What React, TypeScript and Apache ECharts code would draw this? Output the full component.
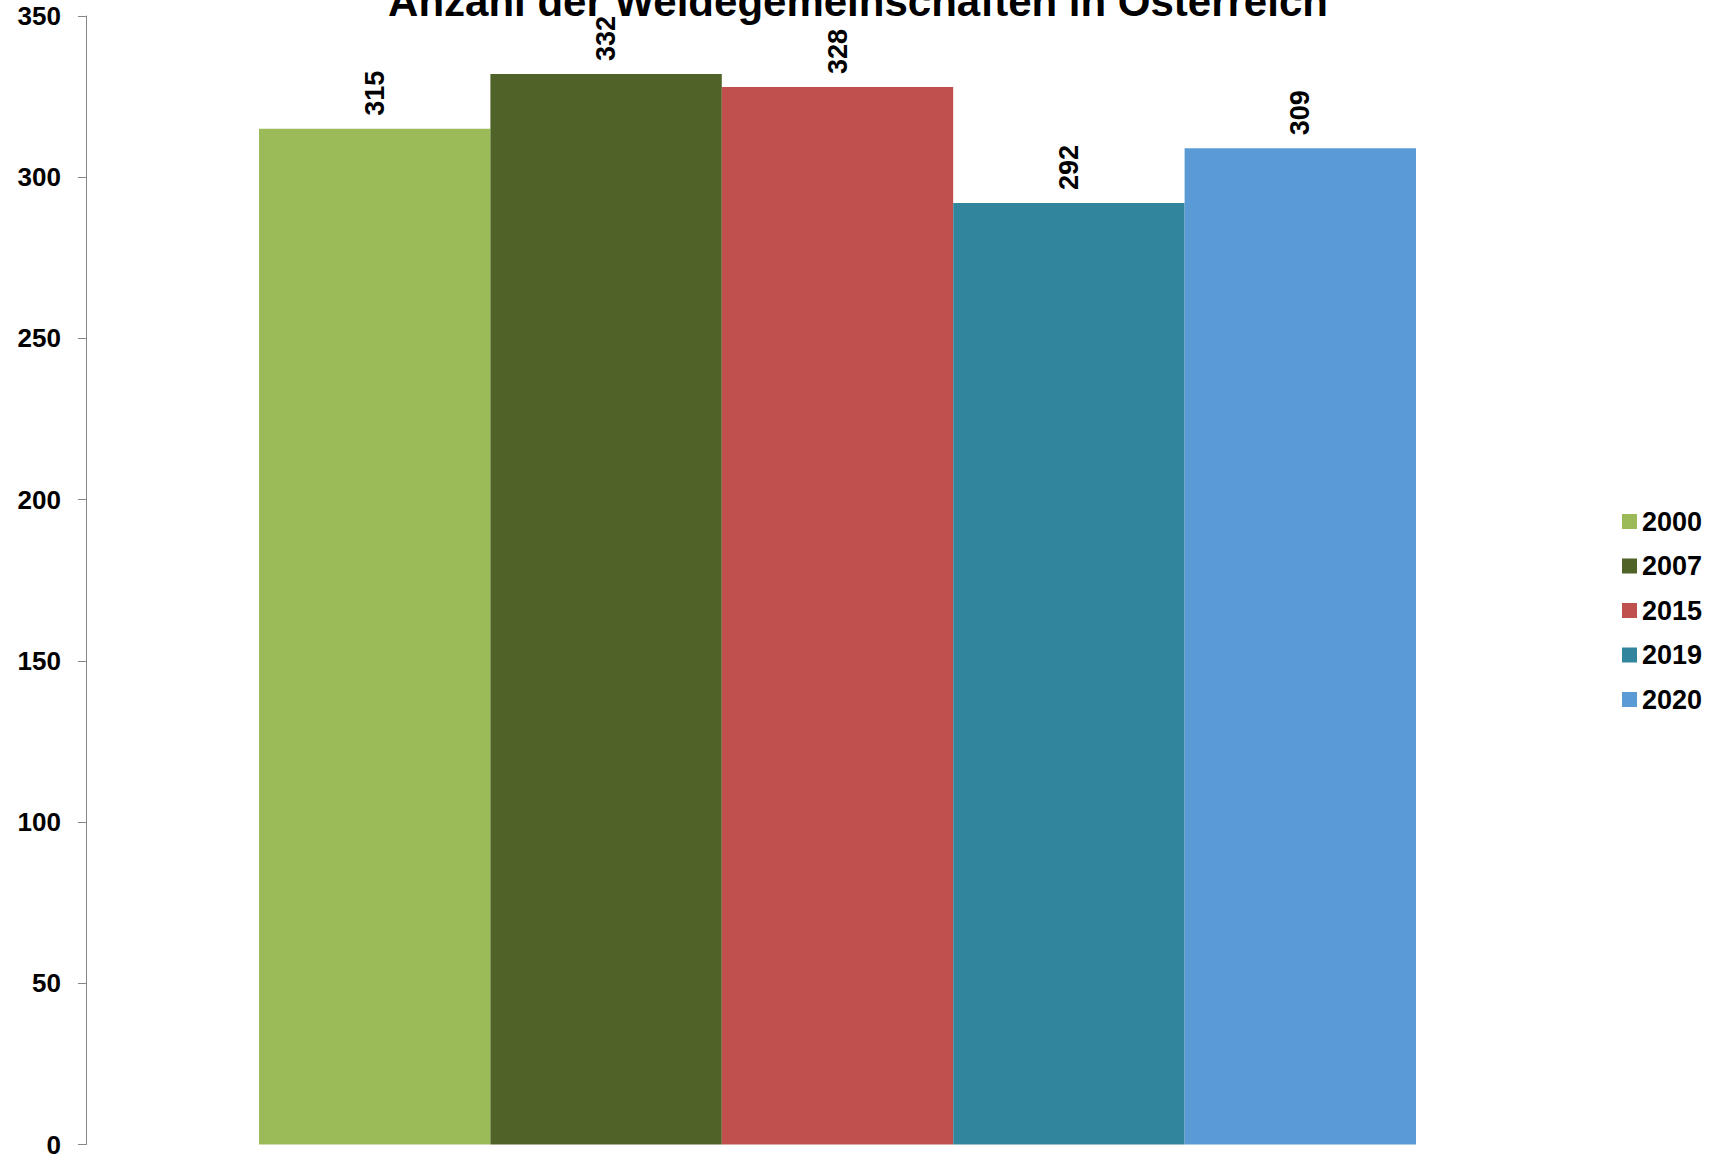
import React, { useEffect, useRef } from "react";
import * as echarts from "echarts";

const title = "Anzahl der Weidegemeinschaften in Österreich";
const years = ["2000", "2007", "2015", "2019", "2020"];
const values = [315, 332, 328, 292, 309];
const colors = ["#9BBB59", "#4F6228", "#C0504D", "#31859C", "#5B9BD5"];
const category = [""];
const FONT = "'Liberation Sans', Arial, sans-serif";

export default function App() {
  const ref = useRef<HTMLDivElement>(null);
  useEffect(() => {
    if (!ref.current) return;
    const chart = echarts.init(ref.current, undefined, { renderer: "svg" });
    chart.setOption({
      animation: false,
      backgroundColor: "#ffffff",
      graphic: [
        {
          type: "text",
          x: 858,
          y: 22,
          style: {
            text: title,
            fontFamily: FONT,
            fontWeight: "bold",
            fontSize: 42,
            fill: "#000",
            textAlign: "center",
            textVerticalAlign: "bottom",
          },
        },
      ],
      grid: { left: 86, right: 125, top: 16, bottom: 14.5, containLabel: false },
      legend: {
        orient: "vertical",
        left: 1617,
        top: 503,
        itemWidth: 15,
        itemHeight: 15,
        itemGap: 17.5,
        icon: "rect",
        data: years,
        textStyle: {
          fontFamily: FONT,
          fontWeight: "bold",
          fontSize: 27,
          lineHeight: 27,
          color: "#000",
        },
      },
      xAxis: {
        type: "category",
        data: category,
        axisLine: { show: false },
        axisTick: { show: false },
        axisLabel: { show: false },
      },
      yAxis: {
        type: "value",
        min: 0,
        max: 350,
        interval: 50,
        axisLine: { show: true, lineStyle: { color: "#868686", width: 1 } },
        axisTick: { show: true, length: 8, lineStyle: { color: "#868686" } },
        splitLine: { show: false },
        axisLabel: {
          margin: 25,
          fontFamily: FONT,
          fontWeight: "bold",
          fontSize: 26,
          color: "#000",
        },
      },
      series: years.map((y, i) => ({
        name: y,
        type: "bar",
        data: [values[i]],
        barWidth: 231.4,
        barGap: "0%",
        itemStyle: { color: colors[i] },
        label: {
          show: true,
          position: "top",
          rotate: 90,
          align: "left",
          verticalAlign: "middle",
          distance: 13,
          fontFamily: FONT,
          fontWeight: "bold",
          fontSize: 27,
          color: "#000",
        },
      })),
    });
    return () => chart.dispose();
  }, []);
  return (
    <div
      ref={ref}
      style={{ position: "fixed", left: 0, top: 0, width: 1714, height: 1159 }}
    />
  );
}
